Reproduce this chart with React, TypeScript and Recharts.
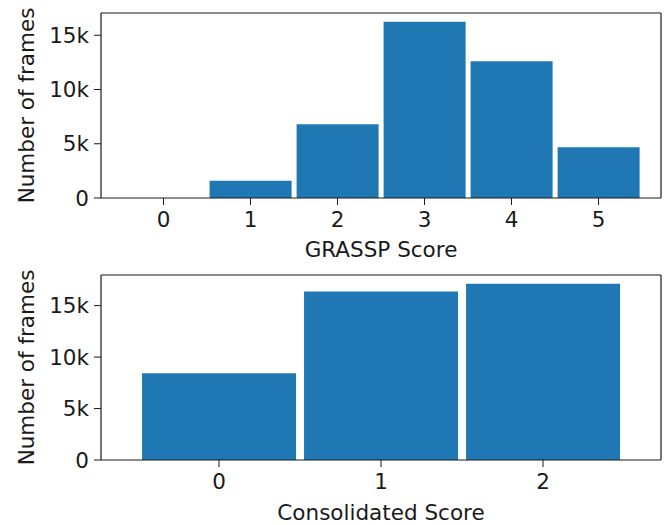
import React from 'react';
import { BarChart, Bar, XAxis, YAxis, Label } from 'recharts';

const grasspScores = ['0', '1', '2', '3', '4', '5'];
const grasspFrames = [0, 1600, 6800, 16240, 12610, 4680];

const consolidatedScores = ['0', '1', '2'];
const consolidatedFrames = [8430, 16370, 17120];

const yTicks = [0, 5000, 10000, 15000];

const grasspData = grasspScores.map((score, i) => ({ score, frames: grasspFrames[i] }));
const consolidatedData = consolidatedScores.map((score, i) => ({ score, frames: consolidatedFrames[i] }));

const FONT = 'DejaVu Sans, sans-serif';
const INK = '#1a1a1a';
const BLUE = '#1f77b4';
const FS = 21.5;

const kFormat = (v: number) => (v === 0 ? '0' : `${v / 1000}k`);
const tickStyle = { fill: INK, fontSize: FS, fontFamily: FONT };

type PanelProps = {
  data: { score: string; frames: number }[];
  maxVal: number;
  height: number;
  marginTop: number;
  axisHeight: number;
  padding: number;
  gap: string;
  xLabel: string;
  xLabelOffset: number;
};

const Panel = ({ data, maxVal, height, marginTop, axisHeight, padding, gap, xLabel, xLabelOffset }: PanelProps) => (
  <BarChart
    width={664}
    height={height}
    data={data}
    margin={{ top: marginTop - 1, right: 2, left: 0, bottom: 0 }}
    barCategoryGap={gap}
  >
    <XAxis
      dataKey="score"
      height={axisHeight}
      padding={{ left: padding, right: padding }}
      stroke={INK}
      tickSize={7}
      tickMargin={7}
      tick={tickStyle}
      tickLine={{ stroke: INK }}
      axisLine={{ stroke: INK, strokeWidth: 1.2 }}
    >
      <Label
        value={xLabel}
        position="insideBottom"
        offset={xLabelOffset}
        style={{ fill: INK, fontSize: FS, fontFamily: FONT }}
      />
    </XAxis>
    <XAxis
      xAxisId="top"
      dataKey="score"
      orientation="top"
      height={1}
      padding={{ left: padding, right: padding }}
      tick={false}
      tickLine={false}
      axisLine={{ stroke: INK, strokeWidth: 1.2 }}
    />
    <YAxis
      width={101}
      domain={[0, maxVal * 1.05]}
      ticks={yTicks}
      tickFormatter={kFormat}
      stroke={INK}
      tickSize={7}
      tickMargin={5}
      tick={tickStyle}
      axisLine={{ stroke: INK, strokeWidth: 1.2 }}
    >
      <Label
        value="Number of frames"
        angle={-90}
        position="insideLeft"
        offset={26}
        style={{ fill: INK, fontSize: FS, fontFamily: FONT, textAnchor: 'middle' }}
      />
    </YAxis>
    <YAxis
      yAxisId="right"
      orientation="right"
      width={1}
      domain={[0, maxVal * 1.05]}
      tick={false}
      tickLine={false}
      axisLine={{ stroke: INK, strokeWidth: 1.2 }}
    />
    <Bar dataKey="frames" fill={BLUE} isAnimationActive={false} />
  </BarChart>
);

export default function App() {
  return (
    <div style={{ position: 'absolute', left: 0, top: 0, width: 664, height: 525, background: '#fff' }}>
      <Panel
        data={grasspData}
        maxVal={Math.max(...grasspFrames)}
        height={265}
        marginTop={13}
        axisHeight={67}
        padding={19}
        gap="3%"
        xLabel="GRASSP Score"
        xLabelOffset={8}
      />
      <Panel
        data={consolidatedData}
        maxVal={Math.max(...consolidatedFrames)}
        height={260}
        marginTop={10}
        axisHeight={65}
        padding={37}
        gap="2.5%"
        xLabel="Consolidated Score"
        xLabelOffset={5}
      />
    </div>
  );
}
